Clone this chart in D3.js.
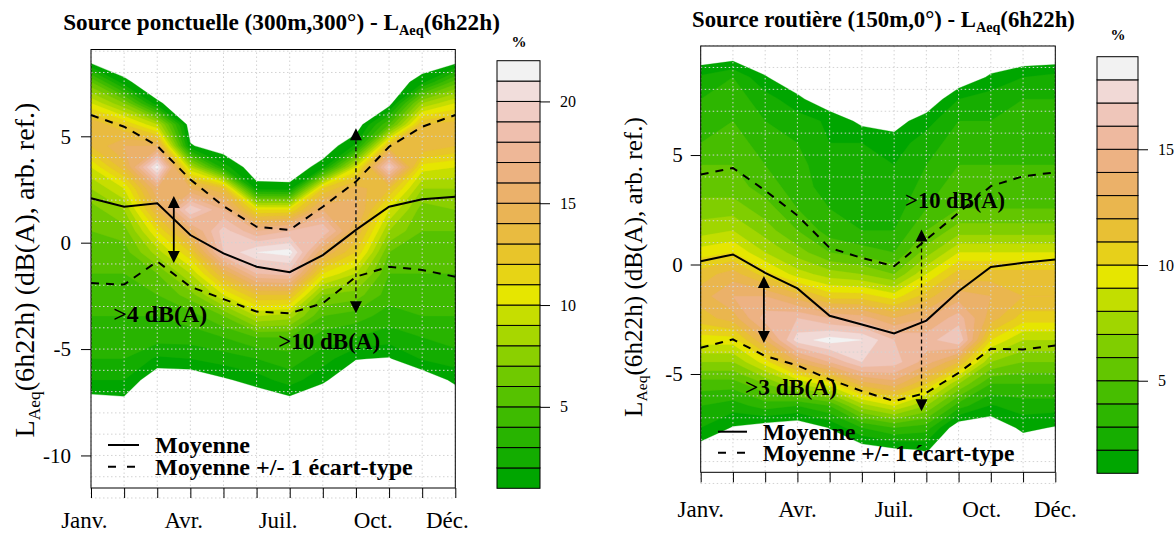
<!DOCTYPE html>
<html>
<head>
<meta charset="utf-8">
<script src="https://cdn.jsdelivr.net/npm/d3@7"></script>
<style>
  body { margin: 0; background: #fff; }
  svg { display: block; }
  text { font-family: "Liberation Serif", "DejaVu Serif", serif; fill: #000; }
</style>
</head>
<body>
<svg id="chart" width="1175" height="534"></svg>
<script>
// ---- data ----
const months = d3.range(1, 13);
const monthLabels = ['Janv.', 'Avr.', 'Juil.', 'Oct.', 'Déc.'];
const legendLabels = ['Moyenne', 'Moyenne +/- 1 écart-type'];

// left panel : point source, % of days per 1 dB bin, rows top -> bottom
const leftRows = d3.range(9.55, -12.46, -1);
const leftDensity = [
  [0, 0.3, 6, 10, 14, 13, 10, 8, 6.5, 6, 5.5, 5, 4.5, 4, 3.5, 3, 2, 0.5, 0, 0, 0, 0, 0],   // janv
  [0, 0, 1.3, 7, 12, 15, 13.5, 10, 8, 6.5, 5.5, 5, 4.5, 4, 3.5, 3, 2, 0.7, 0, 0, 0, 0, 0], // fev
  [0, 0, 0, 1.2, 9, 15, 21.5, 16, 14, 11, 8.5, 6, 5, 4, 3.5, 1.8, 0, 0, 0, 0, 0, 0, 0],    // mars
  [0, 0, 0, 0, 0, 1.15, 9, 15, 20, 15.5, 12, 9, 6.5, 4.5, 3.5, 2, 0, 0, 0, 0, 0, 0, 0],    // avr
  [0, 0, 0, 0, 0, 0, 2.5, 13, 17, 19.5, 19, 14, 10, 6, 4, 2.5, 0.8, 0, 0, 0, 0, 0, 0],     // mai
  [0, 0, 0, 0, 0, 0, 0, 1.5, 11, 17, 21, 18, 13, 9, 5, 3, 1.5, 0, 0, 0, 0, 0, 0],          // juin
  [0, 0, 0, 0, 0, 0, 0, 1.4, 11, 18, 21.5, 18.5, 13, 8.5, 5, 3.5, 2.5, 0.5, 0, 0, 0, 0, 0], // juil
  [0, 0, 0, 0, 0, 0, 1.6, 12, 16, 19, 15, 11, 7, 5, 3.5, 2.5, 1.2, 0, 0, 0, 0, 0, 0],      // aout
  [0, 0, 0, 0, 0, 2.2, 10, 14.5, 15.5, 14, 12, 9, 6.5, 4.5, 3, 1.05, 0, 0, 0, 0, 0, 0, 0], // sept
  [0, 0, 0, 0.3, 5, 13, 19.5, 13, 10, 8, 6, 5, 4.5, 3.5, 2.5, 0.9, 0, 0, 0, 0, 0, 0, 0],   // oct
  [0, 0, 1.6, 8, 13, 14, 10.5, 8, 6.5, 6, 5.5, 5, 4.5, 4, 3, 2.1, 0, 0, 0, 0, 0, 0, 0],    // nov
  [0, 0.2, 5.5, 10, 13.5, 13, 10, 8, 7, 6, 5.5, 5, 4.5, 4, 3.5, 2.5, 1.3, 0, 0, 0, 0, 0, 0] // dec
];
const leftMean = [2.09, 1.69, 1.85, 0.36, -0.5, -1.13, -1.39, -0.58, 0.6, 1.69, 2.04, 2.16];
const leftUpper = [6.0, 5.45, 4.55, 2.97, 1.72, 0.75, 0.6, 1.69, 2.87, 4.51, 5.45, 6.0];
const leftLower = [-1.9, -1.97, -0.88, -2.07, -2.65, -3.24, -3.32, -2.85, -1.6, -1.13, -1.28, -1.6];
const leftLevels = d3.range(1, 23);
const leftYTicks = [-10, -5, 0, 5];
const leftBarTicks = [5, 10, 15, 20];
const leftMonthPos = [0.8, 3.8, 6.65, 9.52, 11.76];
const leftArrows = [
  { month: 3.5, from: 2.2, to: -0.95, dashed: false },
  { month: 9, from: 5.38, to: -3.32, dashed: true }
];
const leftNotes = [
  { text: '>4 dB(A)', month: 3.09, v: -3.73 },
  { text: '>10 dB(A)', month: 8.19, v: -5.0 }
];

// right panel : road source
const rightRows = d3.range(10.55, -10.46, -1);
const rightDensity = [
  [0, 0, 2.2, 3, 3.5, 4, 5, 5.5, 6.5, 7.5, 9.5, 11.5, 12.5, 11.5, 9.5, 7, 4.5, 3, 2, 0.4, 0, 0],    // janv
  [0, 0.3, 3, 3.5, 4, 4.5, 5, 5.5, 6.5, 8, 10, 12.5, 14, 12.5, 9.5, 7, 4.5, 2.5, 0.9, 0, 0, 0],     // fev
  [0, 0, 1.1, 2.5, 3, 3.5, 4, 4.5, 5.5, 6.5, 8, 10.5, 14, 15.5, 13, 9.5, 6, 3.5, 0.3, 0, 0, 0],     // mars
  [0, 0, 0, 1.3, 2.5, 3, 3.5, 3.5, 4, 5, 6.5, 8.5, 12.5, 16, 17.5, 13, 8, 3, 0, 0, 0, 0],           // avr
  [0, 0, 0, 0, 1.8, 2, 2, 2.5, 3, 3.5, 5, 7.5, 10.5, 15, 18.5, 15, 9.5, 4, 1.05, 0, 0, 0],          // mai
  [0, 0, 0, 0, 0.7, 2, 2, 2, 2.5, 3, 4.5, 7, 10.5, 14.5, 18, 17, 12.5, 7.5, 3, 0.3, 0, 0],          // juin
  [0, 0, 0, 0, 0.5, 1.5, 2, 2, 2.5, 3, 4, 6, 9.5, 13, 16, 16.5, 13.5, 9, 4, 0.8, 0, 0],             // juil
  [0, 0, 0, 0, 1.6, 2.5, 3, 3.5, 4, 5, 6.5, 9, 11.5, 14, 15.5, 14.5, 11, 7, 3.5, 1.1, 0, 0],        // aout
  [0, 0, 0, 2, 3, 3.5, 4, 4.5, 5, 6.5, 9, 11.5, 13.5, 15.5, 17, 12, 7, 3.5, 0, 0, 0, 0],            // sept
  [0, 0, 1.2, 2.5, 3, 3.5, 4, 4.5, 5, 6.5, 9, 11.5, 13, 12.5, 10, 7, 4, 1.9, 0, 0, 0, 0],           // oct
  [0, 0, 2, 3, 3.5, 3.5, 4, 4.5, 5, 6.5, 9, 11.5, 12, 10.5, 8, 6, 4, 2.5, 1.3, 0, 0, 0],            // nov
  [0, 0, 2.4, 3, 3.5, 3.5, 4, 4.5, 5, 6.5, 9, 11.5, 12, 10.5, 8, 6, 4, 2.5, 0.9, 0, 0, 0]           // dec
];
const rightMean = [0.15, 0.46, -0.38, -1.09, -2.34, -2.74, -3.15, -2.56, -1.22, -0.11, 0.08, 0.23];
const rightUpper = [4.11, 4.41, 3.38, 2.24, 0.76, 0.3, -0.08, 1.14, 2.36, 3.58, 4.03, 4.21];
const rightLower = [-3.8, -3.42, -4.18, -4.61, -5.25, -5.78, -6.24, -5.86, -4.95, -3.85, -3.88, -3.7];
const rightLevels = d3.range(1, 20);
const rightYTicks = [-5, 0, 5];
const rightBarTicks = [5, 10, 15];
const rightMonthPos = [1, 4, 7, 9.72, 12];
const rightArrows = [
  { month: 2.96, from: -0.53, to: -3.58, dashed: false },
  { month: 7.85, from: 1.6, to: -6.7, dashed: true }
];
const rightNotes = [
  { text: '>10 dB(A)', month: 8.89, v: 2.6 },
  { text: '>3 dB(A)', month: 3.8, v: -5.98 }
];

// ---- layout ----
const panels = [
  {
    title: 'Source ponctuelle (300m,300°) - ', titleX: 281.5, titleY: 30, titleW: 437,
    rows: leftRows, density: leftDensity, mean: leftMean, upper: leftUpper, lower: leftLower,
    levels: leftLevels, yTicks: leftYTicks, barTicks: leftBarTicks, labelPos: leftMonthPos,
    arrows: leftArrows, notes: leftNotes, noteW: [94, 102],
    box: { x0: 91, x1: 455.3, y0: 49.5, y1: 488 }, yDomain: [-11.53, 9.08], gridY: [-12, 9],
    bar: { x0: 497, x1: 540, y0: 60.7, y1: 488.3 }, pct: [519, 47],
    yTitle: { x: 34, y: 270, w: 335 }, labelY: 528, tickPad: 10,
    legend: { x0: 108, x1: 139, y: [445, 466.7], tx: 155, w: 258 }
  },
  {
    title: 'Source routière (150m,0°) - ', titleX: 883.5, titleY: 27, titleW: 383,
    rows: rightRows, density: rightDensity, mean: rightMean, upper: rightUpper, lower: rightLower,
    levels: rightLevels, yTicks: rightYTicks, barTicks: rightBarTicks, labelPos: rightMonthPos,
    arrows: rightArrows, notes: rightNotes, noteW: [100, 92],
    box: { x0: 700.7, x1: 1055.3, y0: 46, y1: 472.3 }, yDomain: [-9.49, 9.98], gridY: [-10, 10],
    bar: { x0: 1097, x1: 1138, y0: 56.7, y1: 473.3 }, pct: [1118, 40],
    yTitle: { x: 642, y: 267, w: 300 }, labelY: 517, tickPad: 8,
    legend: { x0: 718, x1: 747, y: [431.7, 452.7], tx: 762.7, w: 252 }
  }
];

// R terrain.colors(n)
function hsv(h, s, v) {
  const i = Math.floor(h * 6), f = h * 6 - i;
  const p = v * (1 - s), q = v * (1 - f * s), t = v * (1 - (1 - f) * s);
  const [r, g, b] = [[v, t, p], [q, v, p], [p, v, t], [p, q, v], [t, p, v], [v, p, q]][i % 6];
  return d3.rgb(r * 255, g * 255, b * 255).formatHex();
}
function terrainColors(n) {
  const k = Math.floor(n / 2);
  const seq = (a, b, len) => d3.range(len).map((i) => (len === 1 ? a : a + ((b - a) * i) / (len - 1)));
  const h1 = seq(4 / 12, 2 / 12, k), v1 = seq(0.65, 0.9, k);
  const h2 = seq(2 / 12, 0, n - k + 1).slice(1), s2 = seq(1, 0, n - k + 1).slice(1),
    v2 = seq(0.9, 0.95, n - k + 1).slice(1);
  return h1.map((h, i) => hsv(h, 1, v1[i])).concat(h2.map((h, i) => hsv(h, s2[i], v2[i])));
}

function fit(sel, width) {
  const w = sel.node().getComputedTextLength();
  const fs = parseFloat(sel.attr('font-size'));
  sel.attr('font-size', (fs * width) / w);
}

const svg = d3.select('#chart');
const defs = svg.append('defs');

panels.forEach((p, pi) => {
  const g = svg.append('g');
  const x = d3.scaleLinear().domain([1, 12]).range([p.box.x0, p.box.x1]);
  const y = d3.scaleLinear().domain(p.yDomain).range([p.box.y1, p.box.y0]);
  const colors = terrainColors(p.levels.length - 1);

  // filled contours
  const nx = months.length, ny = p.rows.length;
  const values = [];
  p.rows.forEach((r, i) => months.forEach((m, j) => values.push(p.density[j][i])));
  const step = p.rows[0] - p.rows[1];
  const proj = d3.geoTransform({
    point(gx, gy) {
      this.stream.point(x(gx + 0.5), y(p.rows[0] - (gy - 0.5) * step));
    }
  });
  const contours = d3.contours().size([nx, ny]).thresholds(p.levels.slice(0, -1))(values);
  const clipId = `clip${pi}`;
  defs.append('clipPath').attr('id', clipId).append('rect')
    .attr('x', p.box.x0).attr('y', p.box.y0)
    .attr('width', p.box.x1 - p.box.x0).attr('height', p.box.y1 - p.box.y0);
  g.append('g').attr('clip-path', `url(#${clipId})`)
    .selectAll('path').data(contours).join('path')
    .attr('d', d3.geoPath(proj))
    .attr('fill', (d) => colors[p.levels.indexOf(d.value)])
    .attr('stroke', (d) => colors[p.levels.indexOf(d.value)])
    .attr('stroke-width', 0.3);

  // dotted grid
  const grid = g.append('g').attr('stroke', '#d3d3d3').attr('stroke-dasharray', '1.5,2.5').attr('stroke-width', 1);
  grid.selectAll('.gv').data(months).join('line')
    .attr('x1', (d) => x(d)).attr('x2', (d) => x(d))
    .attr('y1', y(p.gridY[0])).attr('y2', p.box.y0);
  grid.selectAll('.gh').data(d3.range(p.gridY[0], p.gridY[1] + 1)).join('line')
    .attr('x1', p.box.x0).attr('x2', p.box.x1)
    .attr('y1', (d) => y(d)).attr('y2', (d) => y(d));

  // box + axes
  g.append('rect').attr('x', p.box.x0).attr('y', p.box.y0)
    .attr('width', p.box.x1 - p.box.x0).attr('height', p.box.y1 - p.box.y0)
    .attr('fill', 'none').attr('stroke', '#000');
  g.append('g').attr('transform', `translate(${p.box.x0},0)`)
    .call(d3.axisLeft(y).tickValues(p.yTicks).tickSize(10).tickPadding(p.tickPad).tickFormat((d) => String(d)))
    .call((a) => a.select('.domain').remove())
    .attr('font-family', null).attr('font-size', 21);
  g.append('g').attr('transform', `translate(0,${p.box.y1})`)
    .call(d3.axisBottom(x).tickValues(months).tickSize(10).tickFormat(''))
    .call((a) => a.select('.domain').remove());
  g.selectAll('.mlab').data(monthLabels).join('text')
    .attr('x', (d, i) => x(p.labelPos[i])).attr('y', p.labelY)
    .attr('text-anchor', 'middle').attr('font-size', 23).text((d) => d);

  // titles
  const t = g.append('text').attr('x', p.titleX).attr('y', p.titleY)
    .attr('text-anchor', 'middle').attr('font-weight', 'bold').attr('font-size', 19);
  t.append('tspan').text(p.title + 'L');
  t.append('tspan').attr('font-size', '0.62em').attr('dy', '0.35em').text('Aeq');
  t.append('tspan').attr('dy', '-0.217em').text('(6h22h)');
  fit(t, p.titleW);

  const yt = g.append('text').attr('transform', `translate(${p.yTitle.x},${p.yTitle.y}) rotate(-90)`)
    .attr('text-anchor', 'middle').attr('font-size', 21);
  yt.append('tspan').text('L');
  yt.append('tspan').attr('font-size', '0.62em').attr('dy', '0.35em').text('Aeq');
  yt.append('tspan').attr('dy', '-0.217em').text('(6h22h) (dB(A), arb. ref.)');
  fit(yt, p.yTitle.w);

  // annotations
  p.notes.forEach((n, i) => {
    const nt = g.append('text').attr('x', x(n.month)).attr('y', y(n.v))
      .attr('text-anchor', 'middle').attr('font-weight', 'bold').attr('font-size', 21).text(n.text);
    fit(nt, p.noteW[i]);
  });

  // mean and +/- 1 std lines
  const line = d3.line().x((d, i) => x(months[i])).y((d) => y(d));
  g.append('path').attr('d', line(p.mean)).attr('fill', 'none').attr('stroke', '#000').attr('stroke-width', 2);
  [p.upper, p.lower].forEach((s) => {
    g.append('path').attr('d', line(s)).attr('fill', 'none').attr('stroke', '#000')
      .attr('stroke-width', 2).attr('stroke-dasharray', '8,7');
  });

  // double arrows
  const head = 12, half = 6;
  p.arrows.forEach((a) => {
    const ax = x(a.month), y0 = y(a.from), y1 = y(a.to);
    g.append('line').attr('x1', ax).attr('x2', ax).attr('y1', y0 + head).attr('y2', y1 - head)
      .attr('stroke', '#000').attr('stroke-width', a.dashed ? 1.3 : 1.8)
      .attr('stroke-dasharray', a.dashed ? '4,3' : null);
    g.append('path').attr('d', `M${ax},${y0}L${ax - half},${y0 + head}L${ax + half},${y0 + head}Z`);
    g.append('path').attr('d', `M${ax},${y1}L${ax - half},${y1 - head}L${ax + half},${y1 - head}Z`);
  });

  // legend
  const L = p.legend;
  g.append('line').attr('x1', L.x0).attr('x2', L.x1).attr('y1', L.y[0]).attr('y2', L.y[0])
    .attr('stroke', '#000').attr('stroke-width', 2);
  g.append('line').attr('x1', L.x0).attr('x2', L.x1).attr('y1', L.y[1]).attr('y2', L.y[1])
    .attr('stroke', '#000').attr('stroke-width', 2).attr('stroke-dasharray', '8,11');
  const lt = g.selectAll('.leg').data(legendLabels).join('text')
    .attr('x', L.tx).attr('y', (d, i) => L.y[i]).attr('dy', '0.35em')
    .attr('font-weight', 'bold').attr('font-size', 20).text((d) => d);
  const l2 = d3.select(lt.nodes()[1]);
  fit(l2, L.w);
  lt.attr('font-size', l2.attr('font-size'));

  // colour bar
  const B = p.bar;
  const yb = d3.scaleLinear().domain(d3.extent(p.levels)).range([B.y1, B.y0]);
  g.selectAll('.bin').data(p.levels.slice(0, -1)).join('rect')
    .attr('x', B.x0).attr('width', B.x1 - B.x0)
    .attr('y', (d) => yb(d + 1)).attr('height', (d) => yb(d) - yb(d + 1))
    .attr('fill', (d, i) => colors[i]).attr('stroke', '#000').attr('stroke-width', 1);
  g.append('g').attr('transform', `translate(${B.x1},0)`)
    .call(d3.axisRight(yb).tickValues(p.barTicks).tickSize(10).tickPadding(10))
    .call((a) => a.select('.domain').remove())
    .attr('font-family', null).attr('font-size', 16);
  g.append('text').attr('x', p.pct[0]).attr('y', p.pct[1]).attr('text-anchor', 'middle')
    .attr('font-weight', 'bold').attr('font-size', 15).text('%');
});
</script>
</body>
</html>
